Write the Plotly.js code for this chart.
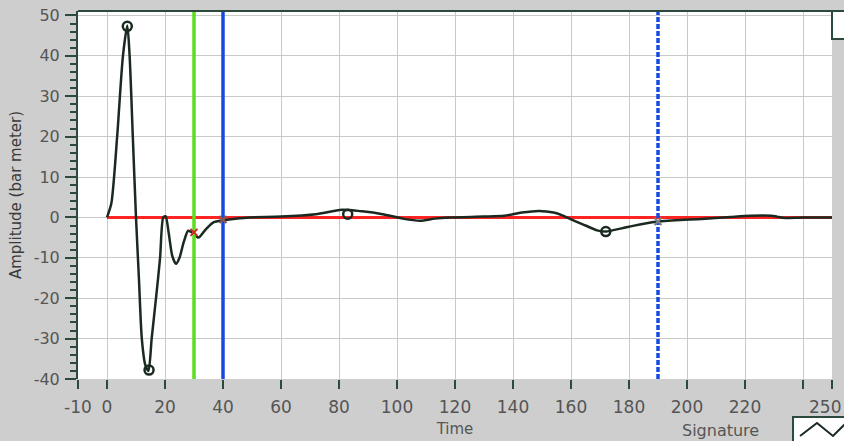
<!DOCTYPE html>
<html>
<head>
<meta charset="utf-8">
<script src="https://cdn.plot.ly/plotly-3.0.1.min.js"></script>
<style>html,body{margin:0;padding:0;background:#cecece;}#chart{width:844px;height:441px;}</style>
</head>
<body>
<div id="chart"></div>
<script>
// Signature waveform (Time, Amplitude)
const sigTime = [0, 1.5, 3.5, 5.5, 7, 7.8, 8.9, 10, 11, 12, 13.2, 14.3, 15.4, 16.9, 18.3, 19.4, 20.2, 21.3, 22.5, 23.8, 25, 26.5, 28, 29.5, 31.5, 34, 36.7, 40, 43.5, 49, 60, 72, 81, 88, 95, 102, 108, 113, 118, 130, 137, 143, 149, 154, 157, 160, 165, 169, 172, 180, 188, 196, 205, 215, 222, 229, 231, 233, 240, 250];
const sigAmp  = [0, 3.5, 20, 40, 47.5, 40, 20, 0, -15, -30, -36.5, -38, -30, -20, -10, 0, 0.3, -4, -9.5, -11.5, -10, -6, -3.3, -3.8, -5, -3, -1.2, -0.7, -0.4, 0, 0.2, 0.8, 1.9, 1.5, 0.8, -0.3, -0.8, -0.3, 0, 0.2, 0.4, 1.2, 1.6, 1.2, 0.5, -0.5, -2, -3.2, -3.5, -2.3, -1.2, -0.7, -0.4, 0.1, 0.4, 0.4, 0.2, -0.1, 0, 0];

// Reference (zero) line
const refTime = [0, 250];
const refAmp = [0, 0];

// Peak markers
const peakTime = [7, 14.5, 83, 172];
const peakAmp  = [47.3, -37.8, 0.8, -3.5];

// Cursors
const cursorTime = [30, 40, 190];
const cursorColor = ['#5ade1e', '#1649e0', '#1649e0'];
const cursorDash = ['solid', 'solid', '5px,2px'];
const cursorMarkAmp = [-3.7, -0.5, -1];

// Axes
const xRange = [-10, 250];
const yRange = [-40, 51.1];
const xTickVals = [-10, 0, 20, 40, 60, 80, 100, 120, 140, 160, 180, 200, 220, 240, 250];
const xTickText = ['-10', '0', '20', '40', '60', '80', '100', '120', '140', '160', '180', '200', '220', '', ''];
const xEndLabel = '250';
const yTickVals = [-40, -30, -20, -10, 0, 10, 20, 30, 40, 50];
const yTickText = ['-40', '-30', '-20', '-10', '0', '10', '20', '30', '40', '50'];

const axisDark = '#2c4a3b';
const labelCol = '#555555';
const font = 'DejaVu Sans, Verdana, sans-serif';

const traces = [];
traces.push({x: refTime, y: refAmp, mode: 'lines', line: {color: '#ff2424', width: 3}, hoverinfo: 'skip'});
traces.push({x: sigTime, y: sigAmp, mode: 'lines', line: {color: '#1b2a20', width: 2.5, shape: 'spline', smoothing: 0.7}, name: 'Signature'});
cursorTime.forEach((t, i) => {
  traces.push({x: [t, t], y: yRange, mode: 'lines', line: {color: cursorColor[i], width: 3.5, dash: cursorDash[i]}, hoverinfo: 'skip'});
  traces.push({x: [t], y: [cursorMarkAmp[i]], mode: 'markers', marker: {symbol: 'x-thin-open', size: 7, line: {color: cursorColor[i], width: 2}}, hoverinfo: 'skip'});
});
traces.push({x: peakTime, y: peakAmp, mode: 'markers', marker: {symbol: 'circle-open', size: 9, color: '#1b2a20', line: {color: '#1b2a20', width: 2.5}}});

const layout = {
  width: 844, height: 441,
  margin: {l: 78, r: 12, t: 11, b: 62},
  paper_bgcolor: '#cecece',
  plot_bgcolor: '#ffffff',
  showlegend: false,
  font: {family: font, color: labelCol},
  xaxis: {
    range: xRange, tickmode: 'array', tickvals: xTickVals, ticktext: xTickText,
    showgrid: true, gridcolor: '#c9c9c9', gridwidth: 1, zeroline: false,
    showline: false, ticks: 'outside', ticklen: 9, tickwidth: 2, tickcolor: axisDark,
    ticklabelstandoff: 4,
    tickfont: {family: font, size: 17, color: labelCol},
    title: {text: 'Time', font: {family: font, size: 15, color: labelCol}, standoff: 7}
  },
  yaxis: {
    range: yRange, tickmode: 'array', tickvals: yTickVals, ticktext: yTickText,
    showgrid: true, gridcolor: '#c9c9c9', gridwidth: 1, zeroline: false,
    showline: true, linecolor: axisDark, linewidth: 2,
    ticks: 'outside', ticklen: 11, tickwidth: 2, tickcolor: axisDark,
    minor: {dtick: 2, ticks: 'outside', ticklen: 6, tickwidth: 2, tickcolor: axisDark, showgrid: false},
    ticklabelstandoff: 2,
    tickfont: {family: font, size: 16, color: labelCol},
    title: {text: 'Amplitude (bar meter)', font: {family: font, size: 15, color: '#3a3a3a'}, standoff: 8}
  },
  shapes: [
    {type: 'line', xref: 'paper', yref: 'paper', x0: 0, x1: 1, y0: 1, y1: 1, line: {color: axisDark, width: 2}},
    {type: 'rect', xref: 'paper', yref: 'paper', x0: 1.0, x1: 1.03, y0: 0.924, y1: 1.0, fillcolor: '#ffffff', line: {color: axisDark, width: 2}},
    {type: 'rect', xref: 'paper', yref: 'paper', x0: 0.9483, x1: 1.03, y0: -0.179, y1: -0.1033, fillcolor: '#ffffff', line: {color: axisDark, width: 2}},
    {type: 'path', xref: 'paper', yref: 'paper', path: 'M 0.9576 -0.1549 L 0.9801 -0.1196 L 1.0013 -0.1549 L 1.0186 -0.1196', line: {color: '#1b2a20', width: 2}}
  ],
  annotations: [
    {text: xEndLabel, xref: 'x', yref: 'paper', x: xRange[1], y: -0.076, xanchor: 'right', yanchor: 'middle', xshift: 11, showarrow: false, font: {family: font, size: 17, color: labelCol}},
    {text: 'Signature', xref: 'paper', yref: 'paper', x: 0.8515, y: -0.139, xanchor: 'center', yanchor: 'middle', showarrow: false, font: {family: font, size: 16, color: labelCol}}
  ]
};

Plotly.newPlot('chart', traces, layout, {displayModeBar: false, staticPlot: true});
</script>
</body>
</html>
